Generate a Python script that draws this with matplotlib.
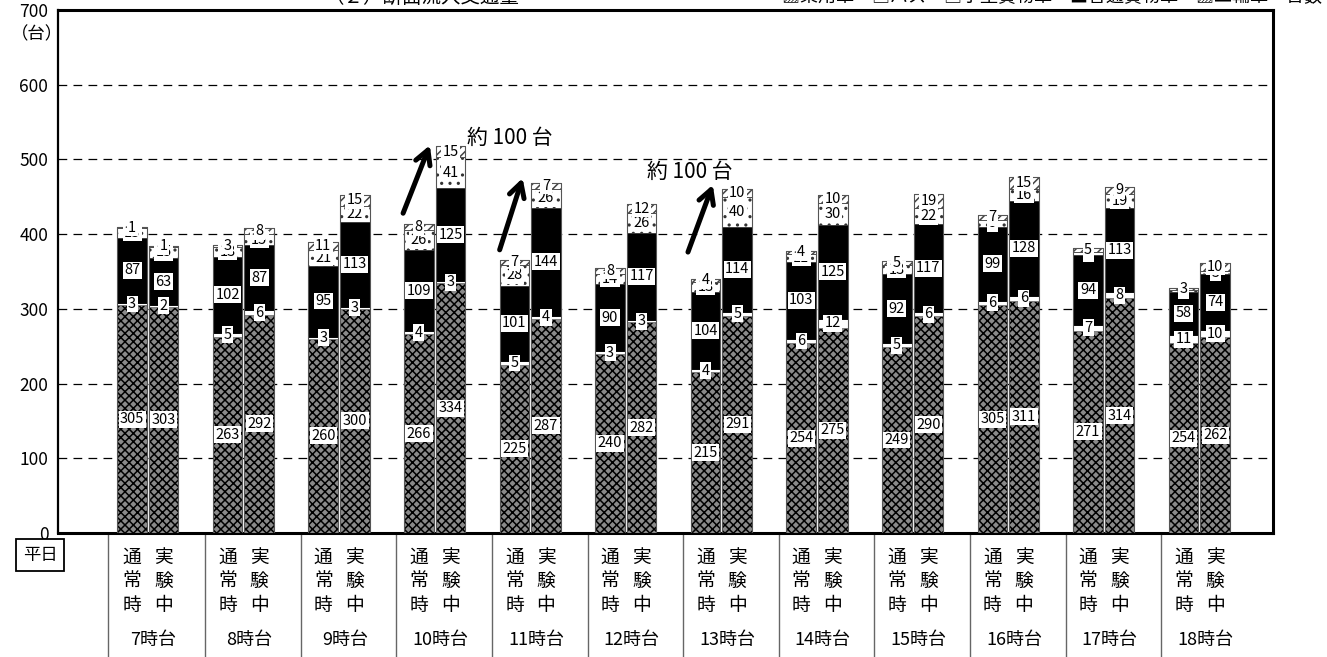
import matplotlib
matplotlib.use("Agg")
import matplotlib.pyplot as plt
import matplotlib.transforms as mtransforms
import numpy as np

plt.rcParams['font.family'] = ['Noto Sans CJK JP', 'DejaVu Sans']
plt.rcParams['hatch.linewidth'] = 1.1

hours = ['7時台', '8時台', '9時台', '10時台', '11時台', '12時台',
         '13時台', '14時台', '15時台', '16時台', '17時台', '18時台']
cond_labels = ['通\n常\n時', '実\n験\n中']

# series (bottom -> top), normal time (通常時)
s1_normal = [305, 263, 260, 266, 225, 240, 215, 254, 249, 305, 271, 254]
s2_normal = [3, 5, 3, 4, 5, 3, 4, 6, 5, 6, 7, 11]
s3_normal = [87, 102, 95, 109, 101, 90, 104, 103, 92, 99, 94, 58]
s4_normal = [13, 13, 21, 26, 28, 14, 13, 11, 13, 9, 4, 2]
s5_normal = [1, 3, 11, 8, 7, 8, 4, 4, 5, 7, 5, 3]

# series during experiment (実験中)
s1_exp = [303, 292, 300, 334, 287, 282, 291, 275, 290, 311, 314, 262]
s2_exp = [2, 6, 3, 3, 4, 3, 5, 12, 6, 6, 8, 10]
s3_exp = [63, 87, 113, 125, 144, 117, 114, 125, 117, 128, 113, 74]
s4_exp = [15, 15, 22, 41, 26, 26, 40, 30, 22, 16, 19, 5]
s5_exp = [1, 8, 15, 15, 7, 12, 10, 10, 19, 15, 9, 10]

yticks = [0, 100, 200, 300, 400, 500, 600, 700]

W, H = 1327, 657
fig = plt.figure(figsize=(W / 100, H / 100), dpi=100)
ax = fig.add_axes([58 / W, (H - 533) / H, (1273 - 58) / W, (533 - 10) / H])

x = np.arange(len(hours))
bw = 0.31
off = 0.165

styles = [
    dict(facecolor='#8a8a8a', edgecolor='black', hatch='xxxx', linewidth=0.0),
    dict(facecolor='white', edgecolor='#777777', hatch=None, linewidth=0.6),
    dict(facecolor='black', edgecolor='black', hatch=None, linewidth=0.6),
    dict(facecolor='white', edgecolor='#333333', hatch='..', linewidth=0.6),
    dict(facecolor='white', edgecolor='#444444', hatch='////', linewidth=0.6),
]

def draw(xpos, series):
    bottom = np.zeros(len(xpos))
    for vals, st in zip(series, styles):
        vals = np.array(vals, dtype=float)
        ax.bar(xpos, vals, bw, bottom=bottom, zorder=3, **st)
        for xi, b, v in zip(xpos, bottom, vals):
            ax.text(xi, b + v / 2, f'{int(v)}', ha='center', va='center',
                    fontsize=10.5, color='black', zorder=5,
                    bbox=dict(facecolor='white', edgecolor='none', pad=1.0))
        bottom = bottom + vals
    ax.bar(xpos, bottom, bw, facecolor='none', edgecolor='#555555',
           linewidth=0.8, zorder=4)

draw(x - off, [s1_normal, s2_normal, s3_normal, s4_normal, s5_normal])
draw(x + off, [s1_exp, s2_exp, s3_exp, s4_exp, s5_exp])

ax.set_xlim(-0.94, 11.77)
ax.set_ylim(0, 700)
ax.set_yticks(yticks)
ax.set_yticklabels([str(v) for v in yticks], fontsize=12.5)
ax.tick_params(axis='y', length=0, pad=7)
ax.set_xticks([])
for yv in yticks[1:-1]:
    ax.axhline(yv, color='black', linestyle=(0, (7, 5)), linewidth=0.9, zorder=1)
for sp in ax.spines.values():
    sp.set_linewidth(2.2)
    sp.set_color('black')
ax.spines['left'].set_linewidth(1.6)

fig.text(37 / W, 1 - 34 / H, '（台）', ha='center', va='center', fontsize=12.5)

# arrows and annotations
arrows = [((2.67, 428), (2.95, 519)), ((3.68, 379), (3.92, 475)), ((5.65, 376), (5.91, 466))]
for (s, t) in arrows:
    ax.annotate('', xy=t, xytext=s,
                arrowprops=dict(arrowstyle='->,head_length=1.0,head_width=0.55',
                                lw=3.6, color='black', shrinkA=0, shrinkB=0), zorder=6)
ax.text(3.79, 529, '約 100 台', ha='center', va='center', fontsize=15, zorder=6)
ax.text(5.67, 483, '約 100 台', ha='center', va='center', fontsize=15, zorder=6)

# table below
trans = mtransforms.blended_transform_factory(ax.transData, ax.transAxes)
rows_y = [(533 - 557) / 523, (533 - 581) / 523, (533 - 605) / 523]
for i, h in enumerate(hours):
    for j, lab in enumerate(cond_labels):
        xp = i - off + 2 * off * j
        for k, ch in enumerate(lab.split('\n')):
            ax.text(xp, rows_y[k], ch, transform=trans, ha='center', va='center',
                    fontsize=13.5)
    ax.text(i + 0.06, (533 - 640) / 523, h, transform=trans, ha='center',
            va='center', fontsize=13)
seps = [-0.42] + [i + 0.6 for i in range(11)]
for sx in seps:
    ax.plot([sx, sx], [0, -0.24], transform=trans, color='#666666', lw=1,
            clip_on=False)

fig.text(40 / W, 1 - 555 / H, '平日', ha='center', va='center', fontsize=12.5,
         bbox=dict(facecolor='white', edgecolor='black', linewidth=1.3,
                   boxstyle='square,pad=0.4'))

# partially cut texts at top
fig.text(520 / W, 1 + 3 / H, '（２）断面流入交通量', ha='right', va='center', fontsize=14)
fig.text(1322 / W, 1 + 3 / H, '▨乗用車　□バス　□小型貨物車　■普通貨物車　▨二輪車　台数',
         ha='right', va='center', fontsize=13)

fig.savefig('out.png', dpi=100)
